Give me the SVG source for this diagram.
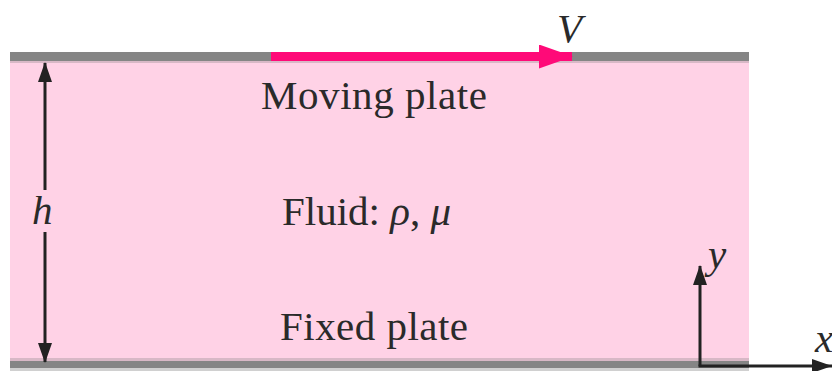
<svg xmlns="http://www.w3.org/2000/svg" width="832" height="371" viewBox="0 0 832 371">
<style>
.t{font-family:"Liberation Serif","Times New Roman",serif;font-size:41px;fill:#2a2a2a}
.i{font-style:italic}
.plate{fill:#858585}
.ax{stroke:#222;stroke-width:3;fill:none}
</style>
<defs>
<marker id="ahl" markerWidth="20" markerHeight="14" refX="19" refY="7" orient="auto" markerUnits="userSpaceOnUse" viewBox="0 0 20 14">
<path d="M0,0 L20,7 L0,14 Z" fill="#222"/>
</marker>
<marker id="ahp" markerWidth="34" markerHeight="24" refX="33" refY="12" orient="auto" markerUnits="userSpaceOnUse" viewBox="0 0 34 24">
<path d="M0,0 L34,12 L0,24 Z" fill="#ff0a78"/>
</marker>
</defs>
<g id="fluid">
<rect x="10" y="60" width="739" height="301" fill="#ffd2e6"/>
<text class="t" x="282" y="225">Fluid: <tspan class="i">ρ</tspan>, <tspan class="i">μ</tspan></text>
</g>
<g id="moving-plate">
<rect x="10" y="52" width="739" height="9" class="plate"/>
<rect x="10" y="61" width="739" height="2" fill="#d8b8c6"/>
<text class="t" x="261" y="109" textLength="226">Moving plate</text>
</g>
<g id="fixed-plate">
<rect x="10" y="358" width="739" height="3" fill="#d8b8c6"/>
<rect x="10" y="361" width="739" height="7" class="plate"/>
<rect x="10" y="368" width="739" height="3" fill="#d0d0d0"/>
<text class="t" x="280" y="340" textLength="188">Fixed plate</text>
</g>
<g id="labels">
<text class="t i" x="557" y="42" font-size="38">V</text>
<text class="t i" x="32" y="224">h</text>
<text class="t i" x="708" y="268" font-size="30">y</text>
<text class="t i" x="815" y="352" font-size="27">x</text>
</g>
<g id="connectors">
<line x1="271" y1="56.5" x2="572" y2="56.5" stroke="#ff0a78" stroke-width="9" marker-end="url(#ahp)"/>
<line x1="45" y1="190" x2="45" y2="63" class="ax" stroke-width="2.5" marker-end="url(#ahl)"/>
<line x1="45" y1="232" x2="45" y2="362" class="ax" stroke-width="2.5" marker-end="url(#ahl)"/>
<line x1="700" y1="366" x2="700" y2="266" class="ax" marker-end="url(#ahl)"/>
<line x1="698.5" y1="366" x2="832" y2="366" class="ax"/>
<path d="M812,359 L832,366 L812,373 Z" fill="#222"/>
</g>
</svg>
